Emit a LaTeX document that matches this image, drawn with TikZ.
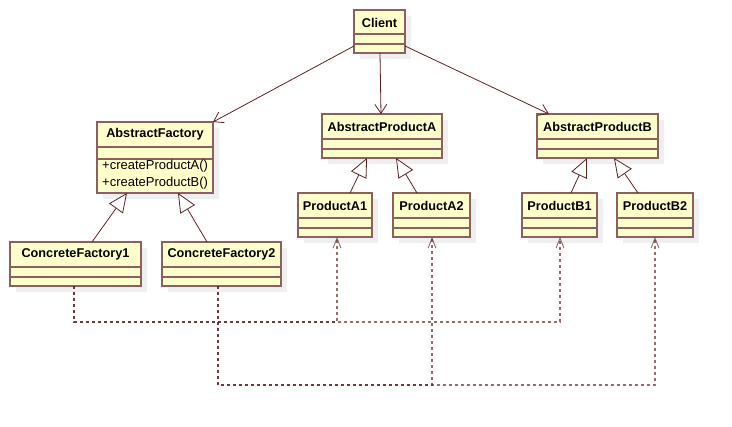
\documentclass[tikz,border=0pt]{standalone}
\usepackage{fontspec}
\setmainfont{Liberation Sans}
\usetikzlibrary{arrows.meta,calc}
\definecolor{boxfill}{HTML}{FFFFCC}
\definecolor{boxline}{HTML}{8E5F5F}
\definecolor{connc}{HTML}{5E2020}
\definecolor{shadowc}{HTML}{EFEFEF}
\tikzset{
  classbox/.style={draw=boxline, fill=boxfill, line width=1.2pt, inner sep=0pt, outer sep=0pt, rectangle},
  sepline/.style={draw=boxline, line width=1.2pt},
  titletext/.style={font=\fontsize{12.7}{14}\selectfont\bfseries, inner sep=0pt},
  opstext/.style={font=\fontsize{13}{15}\selectfont, inner sep=0pt, anchor=west},
  assoc/.style={draw=connc, line width=0.8pt, -{Straight Barb[length=9pt,width=12pt,line width=0.8pt]}},
  gener/.style={draw=connc, line width=0.8pt, -{Triangle[length=19pt,width=17pt,fill=white,line width=0.8pt]}},
  depend/.style={draw=connc, draw opacity=0.65, line width=1.6pt, dash pattern=on 3pt off 3pt, -{Straight Barb[length=10pt,width=8pt,line width=0.9pt]}},
}
\newcommand\umlclass[8]{% name, x, y, w, h, title, line1, line2
  \fill[shadowc] (#2+6,#3+6) rectangle ++(#4,#5);
  \node[classbox, minimum width=#4pt, minimum height=#5pt, anchor=north west] (#1) at (#2,#3) {};
  \node[titletext] (#1-title) at ($(#1.north)+(0,12.5)$) {#6};
  \draw[sepline] ($(#1.north west)+(0,#7)$) -- ($(#1.north east)+(0,#7)$);
  \draw[sepline] ($(#1.north west)+(0,#8)$) -- ($(#1.north east)+(0,#8)$);
}
\begin{document}
\begin{tikzpicture}[x=1pt,y=-1pt]
\useasboundingbox (0,0) rectangle (732,427);
\fill[white] (0,0) rectangle (732,427);

\umlclass{client}{354}{10}{51}{43}{Client}{24}{34}
\umlclass{af}{97}{122}{116}{71}{AbstractFactory}{25}{37}
\node[opstext] (af-op1) at ($(af.north west)+(5,44)$) {+createProductA()};
\node[opstext] (af-op2) at ($(af.north west)+(5,61)$) {+createProductB()};
\umlclass{cf1}{10}{242}{131}{44}{ConcreteFactory1}{25}{35}
\umlclass{cf2}{162}{242}{119}{44}{ConcreteFactory2}{25}{35}
\umlclass{apa}{322}{114}{120}{44}{AbstractProductA}{25}{35}
\umlclass{pa1}{298}{193}{74}{44}{ProductA1}{25}{35}
\umlclass{pa2}{393}{193}{77}{44}{ProductA2}{25}{35}
\umlclass{apb}{537}{114}{121}{44}{AbstractProductB}{25}{35}
\umlclass{pb1}{522}{193}{75}{44}{ProductB1}{25}{35}
\umlclass{pb2}{617}{193}{76}{44}{ProductB2}{25}{35}

% associations from Client
\draw[assoc] ($(client.north west)+(0,36)$) -- (af.north east);
\draw[assoc] ($(client.south west)+(26,0)$) -- ($(apa.north west)+(59,0)$);
\draw[assoc] ($(client.north east)+(0,36)$) -- ($(apb.north west)+(12,0)$);

% generalizations
\draw[gener] ($(cf1.north west)+(82,0)$) -- ($(af.south west)+(30,0)$);
\draw[gener] ($(cf2.north west)+(45,0)$) -- ($(af.south west)+(81,0)$);
\draw[gener] ($(pa1.north west)+(52,0)$) -- ($(apa.south west)+(45,0)$);
\draw[gener] ($(pa2.north west)+(24,0)$) -- ($(apa.south west)+(74,0)$);
\draw[gener] ($(pb1.north west)+(49,0)$) -- ($(apb.south west)+(50,0)$);
\draw[gener] ($(pb2.north west)+(21,0)$) -- ($(apb.south west)+(77,0)$);

% dependencies
\draw[depend] ($(cf1.south west)+(64,0)$) |- ($(pa1.south west)+(39,85)$) -- ($(pa1.south west)+(39,0)$);
\draw[depend] ($(cf1.south west)+(64,0)$) |- ($(pb1.south west)+(38,85)$) -- ($(pb1.south west)+(38,0)$);
\draw[depend] ($(cf2.south west)+(56,0)$) |- ($(pa2.south west)+(39,148)$) -- ($(pa2.south west)+(39,0)$);
\draw[depend] ($(cf2.south west)+(56,0)$) |- ($(pb2.south west)+(38,148)$) -- ($(pb2.south west)+(38,0)$);
\end{tikzpicture}
\end{document}
